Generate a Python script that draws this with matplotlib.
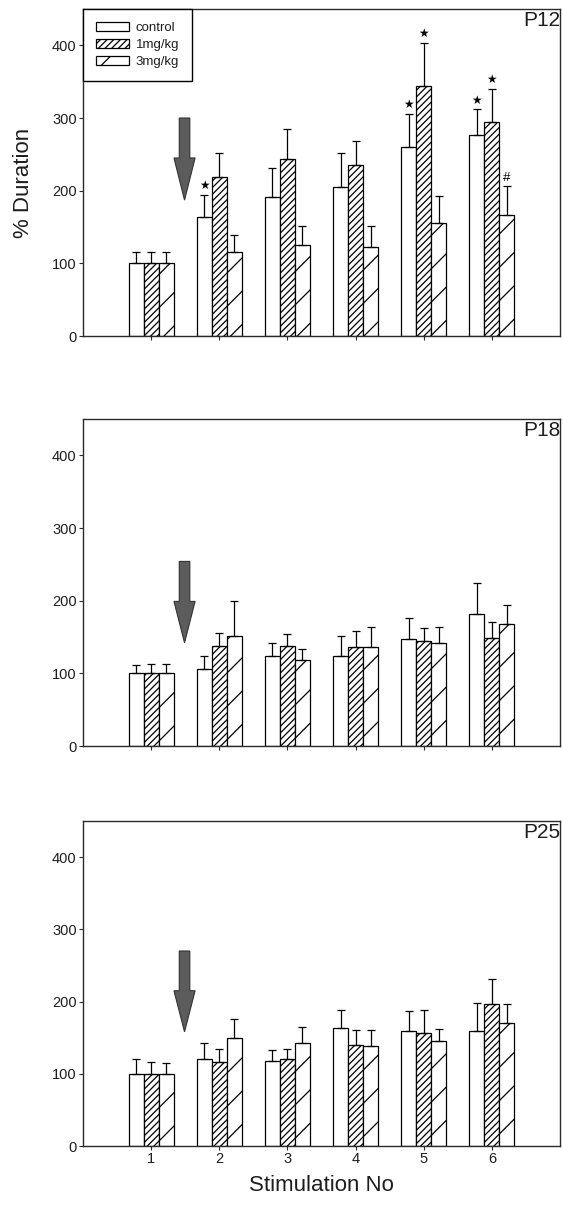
import numpy as np
import matplotlib
matplotlib.use("Agg")
import matplotlib.pyplot as plt
from matplotlib.patches import FancyArrow

plt.rcParams['font.family'] = ['Liberation Sans', 'DejaVu Sans']
plt.rcParams['hatch.linewidth'] = 0.9

stim = [1, 2, 3, 4, 5, 6]
series = ["control", "1mg/kg", "3mg/kg"]
panels = ["P12", "P18", "P25"]

# P12
p12_control = [100, 164, 191, 205, 260, 277]
p12_control_err = [15, 30, 40, 47, 46, 35]
p12_1mg = [100, 219, 244, 236, 344, 295]
p12_1mg_err = [15, 33, 41, 32, 59, 45]
p12_3mg = [100, 115, 125, 123, 155, 167]
p12_3mg_err = [15, 24, 26, 28, 37, 39]

# P18
p18_control = [100, 106, 124, 124, 147, 182]
p18_control_err = [11, 18, 18, 27, 29, 43]
p18_1mg = [100, 138, 138, 136, 144, 148]
p18_1mg_err = [13, 18, 16, 22, 18, 22]
p18_3mg = [100, 152, 118, 136, 142, 168]
p18_3mg_err = [13, 48, 16, 28, 22, 26]

# P25
p25_control = [100, 120, 118, 164, 159, 159]
p25_control_err = [20, 23, 15, 24, 28, 39]
p25_1mg = [100, 117, 121, 140, 156, 196]
p25_1mg_err = [17, 17, 14, 20, 32, 35]
p25_3mg = [100, 149, 142, 138, 146, 170]
p25_3mg_err = [15, 27, 23, 22, 16, 26]

# significance marks (panel P12): (stimulation, series index, symbol)
p12_marks = [(2, 0, "★"), (5, 0, "★"), (5, 1, "★"), (6, 0, "★"), (6, 1, "★"), (6, 2, "#")]

# stimulation arrow: (x, top, tip) per panel
arrow_x = 1.49
arrow_top = [300, 254, 270]
arrow_tip = [187, 142, 158]
arrow_head = [58, 57, 57]

yticks = [0, 100, 200, 300, 400]

data = [
    ([p12_control, p12_1mg, p12_3mg], [p12_control_err, p12_1mg_err, p12_3mg_err]),
    ([p18_control, p18_1mg, p18_3mg], [p18_control_err, p18_1mg_err, p18_3mg_err]),
    ([p25_control, p25_1mg, p25_3mg], [p25_control_err, p25_1mg_err, p25_3mg_err]),
]

W, H = 563, 1207
fig = plt.figure(figsize=(W / 100, H / 100), dpi=100)

# axes boxes in pixels: (top, bottom)
boxes = [(9, 336), (419, 746), (821, 1146)]
left_px, right_px = 83, 560

hatches = [None, "/////", "/"]
width = 0.22
offsets = [-0.22, 0.0, 0.22]
spine_c = "#2a2a2a"
txt_c = "#1e1e1e"

for i, (vals, errs) in enumerate(data):
    top, bot = boxes[i]
    ax = fig.add_axes([left_px / W, 1 - bot / H, (right_px - left_px) / W, (bot - top) / H])
    x = np.array(stim, dtype=float)
    handles = []
    for j in range(3):
        b = ax.bar(x + offsets[j], vals[j], width=width, color="white",
                   edgecolor="black", linewidth=0.9, hatch=hatches[j], label=series[j], zorder=2)
        handles.append(b)
        ax.errorbar(x + offsets[j], vals[j], yerr=[np.zeros(6), errs[j]], fmt="none",
                    ecolor="black", elinewidth=0.9, capsize=3, capthick=0.9, zorder=3)
    ax.set_xlim(0, 7)
    ax.set_ylim(0, 450)
    ax.set_yticks(yticks)
    ax.set_xticks(stim)
    ax.tick_params(axis="both", direction="out", length=3, width=0.8, colors=spine_c,
                   labelsize=10.5, labelcolor=txt_c, pad=1.5)
    if i < 2:
        ax.tick_params(axis="x", labelbottom=False)
    for s in ax.spines.values():
        s.set_color(spine_c)
        s.set_linewidth(1.0)
    ax.text(1.0, 0.995, panels[i], transform=ax.transAxes, ha="right", va="top",
            fontsize=15, color=txt_c)
    # arrow
    ax.add_patch(FancyArrow(arrow_x, arrow_top[i], 0, arrow_tip[i] - arrow_top[i],
                            width=0.155, head_width=0.31, head_length=arrow_head[i],
                            length_includes_head=True, facecolor="#5c5c5c",
                            edgecolor="#333333", linewidth=0.8, zorder=4))
    if i == 0:
        for (s, j, sym) in p12_marks:
            xi = s + offsets[j]
            yi = vals[j][s - 1] + errs[j][s - 1]
            ax.annotate(sym, (xi, yi), xytext=(0, 2), textcoords="offset points",
                        ha="center", va="bottom", fontsize=8.5 if sym == "★" else 9.5,
                        family=["DejaVu Sans"] if sym == "★" else None, color="black")
        leg = ax.legend(handles=handles, labels=series, loc="upper left",
                        bbox_to_anchor=(0, 1), borderaxespad=0, fancybox=False,
                        framealpha=1, edgecolor="black", fontsize=9.5, handlelength=2.5,
                        handleheight=0.75, handletextpad=0.55, labelspacing=0.35,
                        borderpad=0.95)
        leg.get_frame().set_linewidth(1.0)
        for t in leg.get_texts():
            t.set_color(txt_c)
    if i == 2:
        ax.set_xlabel("Stimulation No", fontsize=16, color=txt_c, labelpad=6)

fig.text(24 / W, 1 - 183 / H, "% Duration", rotation=90, ha="center", va="center",
         fontsize=16, color=txt_c)

fig.savefig("out.png", dpi=100)
